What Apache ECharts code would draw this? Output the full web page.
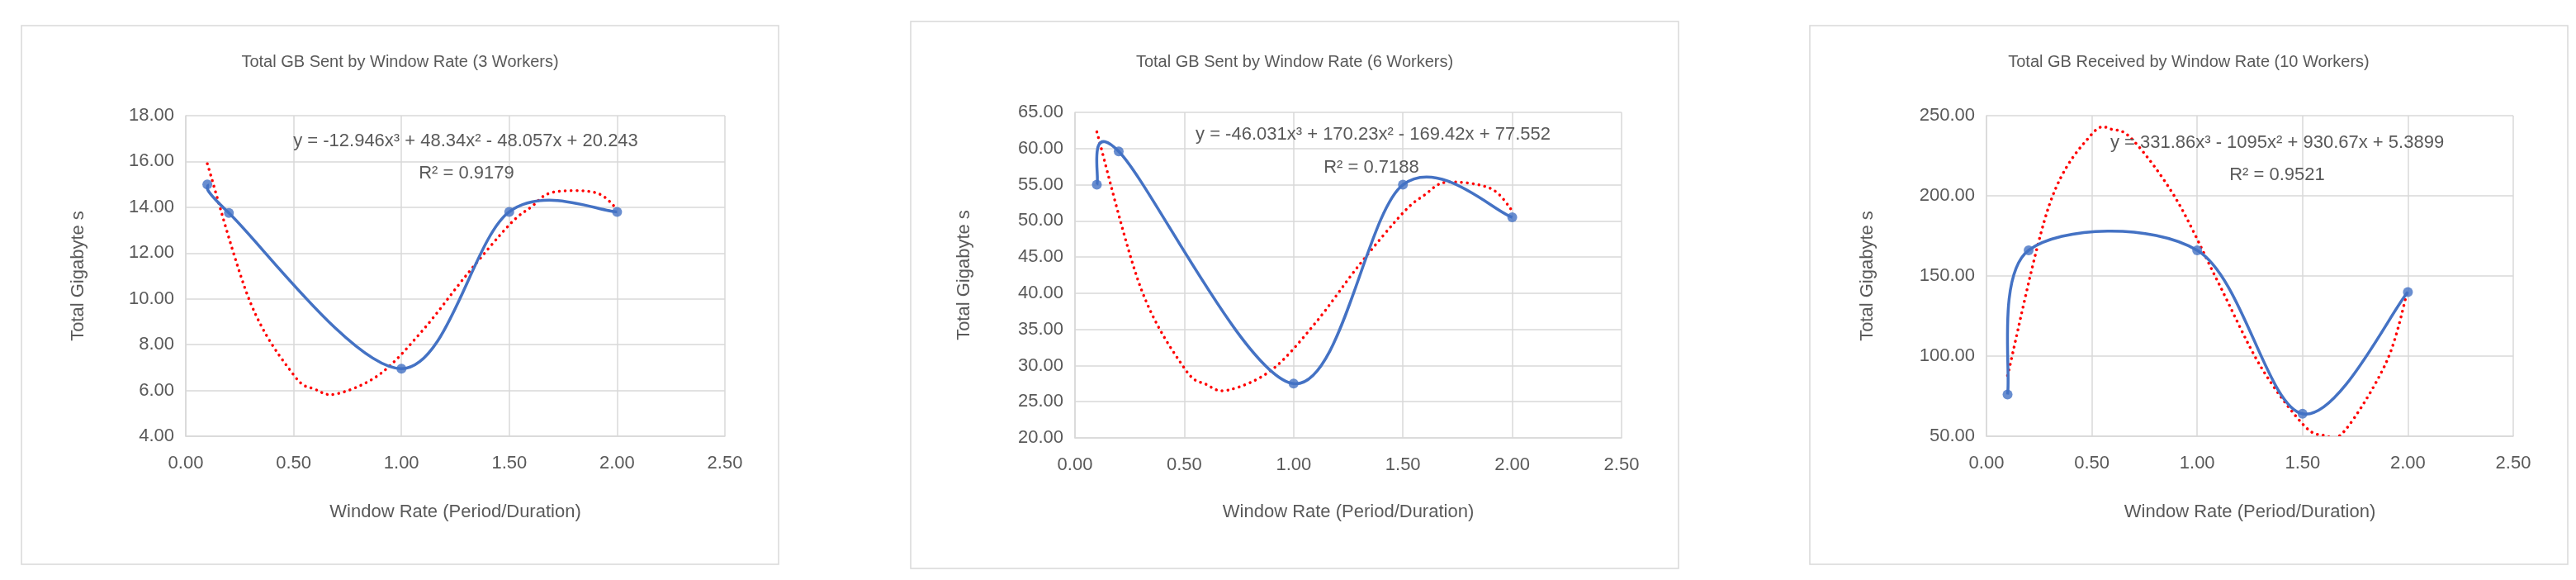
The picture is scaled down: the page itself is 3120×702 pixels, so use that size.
<!DOCTYPE html>
<html>
<head>
<meta charset="utf-8">
<script src="https://cdn.jsdelivr.net/npm/echarts@6/dist/echarts.min.js"></script>
<style>
  html, body { margin: 0; padding: 0; background: #fff; }
  #chart { width: 3120px; height: 702px; }
</style>
</head>
<body>
<div id="chart"></div>
<script>
// window rates (x) shared by the three charts
const rates = [0.1, 0.2, 1.0, 1.5, 2.0]
const sent3 = [15.0, 13.75, 6.95, 13.8, 13.8]
const sent6 = [55.0, 59.6, 27.5, 55.0, 50.5]
const recv10 = [76, 166, 166, 64, 140]

// trendline points
const trendX = [0.1, 0.3, 0.5, 0.6, 0.7, 0.9, 1.1, 1.3, 1.5, 1.6, 1.7, 1.9, 2.0]
const trend3 = [15.9, 9.83, 6.68, 6.05, 5.85, 6.71, 8.64, 11.02, 13.23, 14.0, 14.65, 14.64, 13.92]
const trend6 = [62.3, 40.8, 29.65, 27.4, 26.6, 29.4, 35.9, 43.9, 51.1, 53.6, 55.35, 54.5, 51.4]
const trend10 = [87.8, 195.0, 238.5, 241.3, 234.1, 198.0, 145.9, 93.8, 57.7, 50.6, 53.4, 96.9, 141.6]

const titles = [
  'Total GB Sent by Window Rate (3 Workers)',
  'Total GB Sent by Window Rate (6 Workers)',
  'Total GB Received by Window Rate (10 Workers)'
]
const equations = [
  ['y = -12.946x³ + 48.34x² - 48.057x + 20.243', 'R² = 0.9179'],
  ['y = -46.031x³ + 170.23x² - 169.42x + 77.552', 'R² = 0.7188'],
  ['y = 331.86x³ - 1095x² + 930.67x + 5.3899', 'R² = 0.9521']
]
const yRanges = [[4, 18, 2], [20, 65, 5], [50, 250, 50]]

const FONT = 'Liberation Sans Narrow, Liberation Sans, sans-serif'
const TXT = '#595959'
const BLUE = '#4472C4'

// layout per panel: outer box, plot area, label spots
const panels = [
  { box: [26, 31, 917, 652], grid: [225, 140, 653, 388], eq: [564, 171], r2: [565, 210], yName: 95 },
  { box: [1103, 26, 930, 662], grid: [1302, 136, 662, 394], eq: [1663, 163], r2: [1661, 203], yName: 1168 },
  { box: [2192, 31, 918, 652], grid: [2406, 140, 638, 388], eq: [2758, 173], r2: [2758, 212], yName: 2262 }
]
const actual = [sent3, sent6, recv10]
const trends = [trend3, trend6, trend10]

// Excel-style smoothed path (Catmull-Rom, converted to bezier) in pixel space
function splinePath(pts) {
  const d = [['M', pts[0]]]
  let s = 'M' + pts[0][0] + ',' + pts[0][1]
  for (let k = 0; k < pts.length - 1; k++) {
    const p0 = pts[Math.max(k - 1, 0)], p1 = pts[k], p2 = pts[k + 1], p3 = pts[Math.min(k + 2, pts.length - 1)]
    const c1 = [p1[0] + (p2[0] - p0[0]) / 6, p1[1] + (p2[1] - p0[1]) / 6]
    const c2 = [p2[0] - (p3[0] - p1[0]) / 6, p2[1] - (p3[1] - p1[1]) / 6]
    s += 'C' + c1.join(',') + ' ' + c2.join(',') + ' ' + p2.join(',')
  }
  return s
}

function curveSeries(i, xs, ys, style, z) {
  return {
    type: 'custom', xAxisIndex: i, yAxisIndex: i, z: z, silent: true,
    clip: true,
    data: xs.map((x, k) => [x, ys[k]]),
    renderItem: (params, api) => {
      if (params.dataIndex !== 0) return null
      const pts = xs.map((x, k) => api.coord([x, ys[k]]))
      return { type: 'path', shape: { pathData: splinePath(pts) }, style: style }
    }
  }
}

const chart = echarts.init(document.getElementById('chart'))

const grids = [], xAxes = [], yAxes = [], series = [], graphic = []
panels.forEach((p, i) => {
  graphic.push({
    type: 'rect', z: -10,
    shape: { x: p.box[0], y: p.box[1], width: p.box[2], height: p.box[3] },
    style: { fill: '#fff', stroke: '#d9d9d9', lineWidth: 1.5 }
  })
  graphic.push({
    type: 'text', x: p.box[0] + p.box[2] / 2, y: 75,
    style: { text: titles[i], fill: TXT, font: '20px ' + FONT, align: 'center', verticalAlign: 'middle' }
  })
  graphic.push({
    type: 'text', x: p.eq[0], y: p.eq[1], z: 100,
    style: { text: equations[i][0], fill: TXT, font: '22px ' + FONT, align: 'center', verticalAlign: 'middle' }
  })
  graphic.push({
    type: 'text', x: p.r2[0], y: p.r2[1], z: 100,
    style: { text: equations[i][1], fill: TXT, font: '22px ' + FONT, align: 'center', verticalAlign: 'middle' }
  })
  graphic.push({
    type: 'text', x: p.grid[0] + p.grid[2] / 2, y: 620,
    style: { text: 'Window Rate (Period/Duration)', fill: TXT, font: '22px ' + FONT, align: 'center', verticalAlign: 'middle' }
  })
  graphic.push({
    type: 'text', x: p.yName, y: p.grid[1] + p.grid[3] / 2, rotation: Math.PI / 2,
    style: { text: 'Total Gigabyte s', fill: TXT, font: '22px ' + FONT, align: 'center', verticalAlign: 'middle' }
  })

  grids.push({ left: p.grid[0], top: p.grid[1], width: p.grid[2], height: p.grid[3] })
  xAxes.push({
    type: 'value', gridIndex: i, min: 0, max: 2.5, interval: 0.5,
    axisLine: { lineStyle: { color: '#d9d9d9', width: 1.5 } },
    axisTick: { show: false },
    splitLine: { lineStyle: { color: '#d9d9d9', width: 1.5 } },
    axisLabel: { color: TXT, fontSize: 22, fontFamily: FONT, margin: 22, formatter: (v) => v.toFixed(2) }
  })
  const [mn, mx, step] = yRanges[i]
  yAxes.push({
    type: 'value', gridIndex: i, min: mn, max: mx, interval: step,
    axisLine: { show: true, lineStyle: { color: '#d9d9d9', width: 1.5 } },
    axisTick: { show: false },
    splitLine: { lineStyle: { color: '#d9d9d9', width: 1.5 } },
    axisLabel: { color: TXT, fontSize: 22, fontFamily: FONT, margin: 14, formatter: (v) => v.toFixed(2) }
  })
  // blue smoothed data line + markers
  series.push(curveSeries(i, rates, actual[i], { fill: 'none', stroke: BLUE, lineWidth: 3.5 }, 3))
  series.push({
    type: 'scatter', xAxisIndex: i, yAxisIndex: i,
    data: rates.map((x, k) => [x, actual[i][k]]),
    symbol: 'circle', symbolSize: 12,
    itemStyle: { color: BLUE },
    z: 4
  })
  // red dotted polynomial trendline
  series.push(curveSeries(i, trendX, trends[i],
    { fill: 'none', stroke: '#ff0000', lineWidth: 3.5, lineDash: [0.1, 7], lineCap: 'round' }, 2))
})

chart.setOption({
  animation: false,
  backgroundColor: '#fff',
  grid: grids,
  xAxis: xAxes,
  yAxis: yAxes,
  series: series,
  graphic: graphic
})
</script>
</body>
</html>
